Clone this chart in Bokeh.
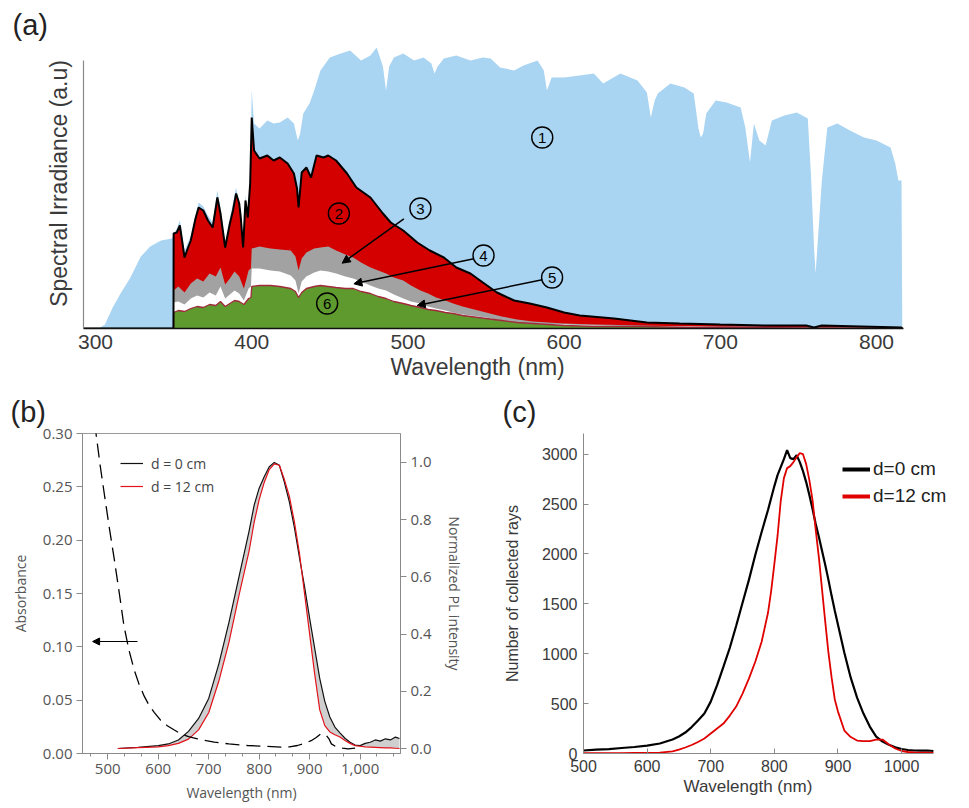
from bokeh.plotting import figure
from bokeh.models import (Range1d, LinearAxis, FixedTicker, SingleIntervalTicker,
                          Arrow, NormalHead, Legend, LegendItem, NumeralTickFormatter, Title)
from bokeh.layouts import column, row
from bokeh.embed import file_html
from bokeh.resources import INLINE
from bokeh.core.properties import value

# ---------------- Panel (a) data (arbitrary units) ----------------
a_ticks = [300, 400, 500, 600, 700, 800]
wl_blue = [292, 302, 306, 311, 316, 322, 329, 335, 342, 349,
           352, 354, 357, 361, 366, 369, 372, 375, 378, 380,
           383, 386, 390, 393, 394.5, 396, 397.5, 399, 400, 401.5,
           405, 410, 414, 418, 423, 427, 429.5, 431, 433, 437,
           440, 444, 450, 457, 463, 470, 476, 480, 484, 486,
           488, 491, 497, 504, 510, 515, 517, 519, 523, 531,
           540, 548, 553, 559, 568, 574, 583, 587, 589, 592,
           600, 610, 619, 625, 636, 647, 653, 655.5, 658, 660,
           668, 677, 683, 686, 687.5, 689, 691, 697, 704, 713,
           716, 719, 721.5, 725, 729, 733, 741, 749, 756, 758,
           760, 761, 763, 765, 768.5, 775, 783, 792, 800, 809,
           812, 814, 816, 816.5]
am15_sun = [0, 0, 4, 21, 35, 50, 72, 82, 88, 90,
            100, 108, 78, 93, 126, 122, 113, 106, 138, 120,
            86, 110, 141, 116, 86, 133, 116, 150, 238, 205,
            200, 208, 205, 206, 211, 205, 188, 195, 215, 225,
            238, 258, 271, 275, 278, 268, 273, 281, 262, 238,
            262, 271, 275, 268, 271, 265, 255, 262, 270, 273,
            268, 271, 270, 261, 258, 263, 268, 258, 238, 251,
            251, 253, 255, 245, 255, 248, 236, 211, 228, 235,
            245, 241, 235, 200, 191, 195, 215, 228, 226, 221,
            201, 166, 205, 188, 183, 208, 213, 216, 210, 155,
            81, 55, 101, 148, 201, 205, 198, 191, 188, 181,
            165, 148, 148, 0]

wl_red = [292, 349.9, 350, 352, 354, 357, 359, 361, 364, 366,
          369, 372, 375, 378, 380, 383, 386, 388, 390, 392,
          393, 394.5, 396, 397.5, 399, 400, 401.5, 405, 410, 414,
          418, 423, 427, 429, 430, 432, 435, 438, 441.5, 446,
          449, 454, 461, 467, 476, 484, 489, 497, 506, 514,
          523, 531, 540, 548, 557, 568, 578, 589, 600, 610,
          632, 653, 674, 700, 730, 755, 760, 765, 790, 816,
          816.5]
absorbed_2 = [0, 0, 95, 96, 103, 71, 80, 88, 110, 121,
              118, 108, 101, 131, 115, 81, 105, 118, 135, 125,
              111, 81, 128, 111, 145, 211, 178, 170, 173, 168,
              171, 165, 155, 140, 121, 156, 161, 151, 173, 171,
              173, 168, 155, 141, 131, 115, 106, 98, 86, 78,
              71, 61, 55, 46, 36, 28, 25, 21, 16, 13,
              10, 6, 5, 4, 3, 3, 1, 3, 2, 1,
              0]

wl_low = [349.9, 350, 353, 357, 361, 365, 369, 373, 377, 380,
          383, 386, 389, 392, 395, 398, 399.5, 400, 405, 412,
          418, 425, 428, 430, 432, 435, 440, 444, 449, 454,
          460, 465, 470, 476, 481, 486, 491, 497, 502, 508,
          513, 518, 524, 529, 535, 540, 545, 550, 560, 570,
          580, 600, 620, 650, 680, 720, 760, 800, 816, 816.5]
layer_3 = [0, 38, 42, 36, 45, 50, 47, 55, 52, 61,
           44, 50, 57, 52, 40, 58, 60, 80, 82, 80,
           79, 78, 72, 58, 70, 76, 80, 81, 82, 78,
           74, 71, 66, 61, 58, 55, 51, 48, 43, 38,
           35, 31, 28, 25, 22, 20, 18, 16, 12, 9,
           7, 5, 4, 3, 2, 2, 1, 1, 1, 0]
layer_4 = [0, 26, 27, 24, 30, 33, 31, 36, 33, 42,
           30, 34, 38, 35, 28, 40, 42, 60, 60, 58,
           57, 53, 48, 35, 47, 52, 56, 58, 57, 55,
           52, 50, 47, 43, 40, 38, 34, 30, 27, 25,
           22, 20, 18, 16, 14, 13, 12, 11, 8, 6,
           5, 4, 3, 2, 2, 1, 1, 1, 1, 0]
layer_6 = [0, 16, 18, 17, 20, 22, 21, 24, 23, 27,
           22, 25, 28, 27, 24, 30, 31, 42, 43, 43,
           42, 40, 37, 31, 36, 40, 42, 43, 42, 41,
           40, 40, 37, 35, 32, 30, 27, 25, 23, 21,
           19, 18, 16, 15, 13, 12, 11, 10, 8, 6,
           5, 3, 2, 2, 1, 1, 0.5, 0.5, 0.5, 0]

mark_labels = ["1", "2", "3", "4", "5", "6"]
mark_x = [586, 455.8, 508, 548.4, 592.3, 448.3]
mark_y = [191, 115, 120, 73, 51, 25]
arrow_x0 = [497.4, 542.2, 586.0]
arrow_y0 = [109.7, 69.7, 48.7]
arrow_x1 = [457.9, 465.4, 505.9]
arrow_y1 = [65.3, 44.7, 23.0]

# ---------------- Panel (b) data ----------------
b_abs_ticks = [0.0, 0.05, 0.10, 0.15, 0.20, 0.25, 0.30]
b_pl_ticks = [0.0, 0.2, 0.4, 0.6, 0.8, 1.0]
wl_b = [520, 560, 600, 620, 640, 660, 680, 700, 720, 740,
        760, 780, 790, 800, 810, 820, 830, 840, 850, 860,
        870, 880, 890, 900, 910, 920, 930, 940, 950, 960,
        970, 980, 990, 1000, 1010, 1020, 1030, 1040, 1050, 1060,
        1070, 1078]
pl_d0 = [0.0, 0.004, 0.010, 0.016, 0.03, 0.06, 0.105, 0.175, 0.295, 0.44,
         0.60, 0.76, 0.85, 0.91, 0.95, 0.985, 1.0, 0.99, 0.93, 0.86,
         0.77, 0.665, 0.565, 0.455, 0.35, 0.245, 0.165, 0.11, 0.075, 0.055,
         0.036, 0.022, 0.012, 0.010, 0.018, 0.022, 0.03, 0.026, 0.034, 0.03,
         0.04, 0.035]
pl_d12 = [0.0, 0.003, 0.006, 0.010, 0.018, 0.033, 0.065, 0.125, 0.235, 0.37,
          0.535, 0.69, 0.79, 0.87, 0.93, 0.975, 0.995, 0.99, 0.94, 0.88,
          0.79, 0.68, 0.54, 0.40, 0.26, 0.135, 0.08, 0.058, 0.048, 0.04,
          0.028, 0.018, 0.010, 0.008, 0.006, 0.005, 0.004, 0.003, 0.002, 0.002,
          0.001, 0.0]
wl_abs = [474, 485, 493, 503, 513, 523, 532, 542, 552, 562,
          572, 582, 592, 605, 618, 632, 645, 660, 678, 695,
          711, 740, 777, 810, 843, 860, 876, 890, 903, 913,
          922, 928, 933, 938, 943, 950, 956, 965, 976, 990]
absorbance = [0.31, 0.27, 0.244, 0.212, 0.182, 0.150, 0.120, 0.097, 0.079, 0.065,
              0.054, 0.045, 0.0386, 0.031, 0.026, 0.022, 0.0184, 0.0158, 0.0137, 0.012,
              0.0106, 0.009, 0.0075, 0.0068, 0.0059, 0.0062, 0.0075, 0.0095, 0.012, 0.015,
              0.0184, 0.0182, 0.017, 0.014, 0.009, 0.007, 0.0059, 0.005, 0.0044, 0.005]
b_arrow = [559, 470, 0.105]

# ---------------- Panel (c) data ----------------
c_xticks = [500, 600, 700, 800, 900, 1000]
wl_c = [500, 520, 540, 560, 580, 600, 620, 640, 650, 660,
        670, 680, 690, 700, 710, 720, 730, 740, 750, 760,
        770, 780, 790, 795, 800, 805, 810, 815, 820, 825,
        830, 835, 840, 845, 850, 855, 860, 865, 870, 875,
        880, 885, 890, 895, 900, 910, 920, 930, 940, 950,
        960, 970, 980, 990, 1000, 1010, 1020, 1030, 1040, 1050]
rays_d0 = [30, 38, 44, 55, 65, 79, 100, 140, 170, 210,
           265, 330, 400, 520, 685, 870, 1060, 1280, 1510, 1740,
           1990, 2220, 2440, 2560, 2680, 2790, 2870, 2950, 3040, 2960,
           2950, 2990, 2920, 2830, 2720, 2590, 2450, 2300, 2170, 2030,
           1890, 1740, 1580, 1430, 1290, 1010, 760, 560, 400, 270,
           170, 120, 88, 62, 45, 35, 30, 28, 30, 25]
rays_d12 = [3, 3, 4, 4, 5, 5, 8, 22, 38, 60,
            85, 115, 150, 200, 250, 300, 380, 470, 600, 750,
            920, 1120, 1410, 1630, 1900, 2180, 2530, 2760, 2860, 2880,
            2920, 2970, 3010, 3000, 2900, 2740, 2540, 2240, 1964, 1640,
            1320, 1010, 760, 540, 420, 230, 165, 130, 125, 125,
            140, 140, 90, 50, 25, 15, 10, 8, 8, 7]

SANS = "Liberation Sans"
OPEN = "Open Sans"


def panel_title(p, text, offset, standoff):
    p.title = Title(text=text, align="left", offset=offset, standoff=standoff,
                    text_font=SANS, text_font_size="29px", text_font_style="normal",
                    text_color="#222222")


def below_label(p, text, offset, size):
    p.add_layout(Title(text=text, align="left", offset=offset, standoff=0,
                       text_font=SANS, text_font_size=size, text_font_style="normal",
                       text_color="#3a3a3a"), "below")


# ======================= Panel (a) =======================
pa = figure(width=969, height=387, x_range=Range1d(292.3, 819.2), y_range=Range1d(0, 290),
            output_backend="svg", toolbar_location=None,
            min_border_left=83, min_border_right=63, min_border_top=38, min_border_bottom=59)
pa.grid.visible = False
pa.outline_line_color = None
panel_title(pa, "(a)", -71, -4)

pa.varea(x=wl_blue, y1=0, y2=am15_sun, fill_color="#a9d4f2")
pa.varea(x=wl_red, y1=0, y2=absorbed_2, fill_color="#d40000")
pa.varea(x=wl_low, y1=0, y2=layer_3, fill_color="#a2a2a2")
pa.varea(x=wl_low, y1=0, y2=layer_4, fill_color="#ffffff")
pa.varea(x=wl_low, y1=0, y2=layer_6, fill_color="#5e9a2e")
pa.line(wl_low, layer_6, line_color="#a12a3c", line_width=1.3)
pa.line(wl_red, absorbed_2, line_color="black", line_width=2)

pa.scatter(mark_x, mark_y, marker="circle", size=21, fill_color=None,
           line_color="black", line_width=1.4)
pa.text(mark_x, mark_y, text=mark_labels, text_align="center", text_baseline="middle",
        text_font_size="15px", text_font=value(SANS), text_color="black")
for i in range(len(arrow_x0)):
    pa.add_layout(Arrow(end=NormalHead(size=8, fill_color="black", line_color="black"),
                        x_start=arrow_x0[i], y_start=arrow_y0[i],
                        x_end=arrow_x1[i], y_end=arrow_y1[i],
                        line_color="black", line_width=1.5))

xa = pa.xaxis[0]
xa.ticker = FixedTicker(ticks=a_ticks)
xa.major_tick_in = 0
xa.major_tick_out = 0
xa.minor_tick_line_color = None
xa.axis_line_color = "#111111"
xa.axis_line_width = 1.5
xa.bounds = (292.3, 817)
xa.major_label_text_font = SANS
xa.major_label_text_font_size = "21px"
xa.major_label_text_color = "#3a3a3a"
xa.major_label_standoff = 6
below_label(pa, "Wavelength (nm)", 307, "23px")

ya = pa.yaxis[0]
ya.ticker = FixedTicker(ticks=[])
ya.bounds = (0, 268)
ya.axis_line_color = "#8a8a8a"
ya.axis_line_width = 1.2
ya.major_tick_line_color = None
ya.minor_tick_line_color = None
ya.axis_label = "Spectral Irradiance (a.u)"
ya.axis_label_text_font = SANS
ya.axis_label_text_font_size = "23px"
ya.axis_label_text_font_style = "normal"
ya.axis_label_text_color = "#3a3a3a"
ya.axis_label_standoff = 12

# ======================= Panel (b) =======================
pb = figure(width=480, height=421, x_range=Range1d(450, 1080), y_range=Range1d(0, 0.30),
            output_backend="svg", toolbar_location=None,
            min_border_left=82, min_border_right=80, min_border_top=45, min_border_bottom=55)
pb.grid.visible = False
pb.outline_line_color = "#9a9a9a"
pb.extra_y_ranges = {"pl": Range1d(-0.0174, 1.101)}
panel_title(pb, "(b)", -72, 12)

pb.varea(x=wl_b, y1=pl_d12, y2=pl_d0, fill_color="#cfcfcf", y_range_name="pl")
r_b0 = pb.line(wl_b, pl_d0, line_color="#111111", line_width=1.2, y_range_name="pl")
r_b12 = pb.line(wl_b, pl_d12, line_color="#e3121b", line_width=1.2, y_range_name="pl")
pb.line(wl_abs, absorbance, line_color="black", line_width=1.3, line_dash="14 7")
pb.add_layout(Arrow(end=NormalHead(size=7, fill_color="black", line_color="black"),
                    x_start=b_arrow[0], y_start=b_arrow[2], x_end=b_arrow[1], y_end=b_arrow[2],
                    line_color="black", line_width=1.2))


def style_b(ax):
    ax.axis_line_color = "#8a8a8a"
    ax.major_tick_line_color = "#8a8a8a"
    ax.minor_tick_line_color = "#8a8a8a"
    ax.major_tick_in = 0
    ax.major_tick_out = 6
    ax.minor_tick_in = 0
    ax.minor_tick_out = 3
    ax.major_label_text_font = OPEN
    ax.major_label_text_font_size = "15px"
    ax.major_label_text_color = "#555555"
    ax.major_label_standoff = 4
    ax.axis_label_text_font = OPEN
    ax.axis_label_text_font_size = "14px"
    ax.axis_label_text_font_style = "normal"
    ax.axis_label_text_color = "#555555"


xb = pb.xaxis[0]
style_b(xb)
xb.ticker = SingleIntervalTicker(interval=100, num_minor_ticks=3)
xb.formatter = NumeralTickFormatter(format="0,0")
xb.axis_label = "Wavelength (nm)"
xb.axis_label_standoff = 6

yb = pb.yaxis[0]
style_b(yb)
yb.ticker = FixedTicker(ticks=b_abs_ticks)
yb.formatter = NumeralTickFormatter(format="0.00")
yb.axis_label = "Absorbance"
yb.axis_label_standoff = 10

yb2 = LinearAxis(y_range_name="pl")
style_b(yb2)
yb2.ticker = FixedTicker(ticks=b_pl_ticks)
yb2.formatter = NumeralTickFormatter(format="0.0")
yb2.axis_label = "Normalized PL intensity"
yb2.axis_label_standoff = 10
pb.add_layout(yb2, "right")

leg_b = Legend(items=[LegendItem(label="d = 0 cm", renderers=[r_b0]),
                      LegendItem(label="d = 12 cm", renderers=[r_b12])],
               location=(38, 257), background_fill_alpha=0, border_line_color=None,
               label_text_font=OPEN, label_text_font_size="14px", label_text_color="#444444",
               glyph_width=23, glyph_height=20, label_height=20, spacing=3,
               label_standoff=8, padding=0, margin=0)
pb.add_layout(leg_b)

# ======================= Panel (c) =======================
pc = figure(width=489, height=421, x_range=Range1d(500, 1102), y_range=Range1d(0, 3207),
            output_backend="svg", toolbar_location=None,
            min_border_left=103, min_border_right=3, min_border_top=45, min_border_bottom=50)
pc.grid.visible = False
pc.outline_line_color = None
panel_title(pc, "(c)", -81, 12)

pc.line(wl_c, rays_d0, line_color="black", line_width=2.2)
pc.line(wl_c, rays_d12, line_color="#e00000", line_width=1.8)
# single-point renderers: invisible in the plot, give thicker legend swatches
r_c0 = pc.line(wl_c[:1], rays_d0[:1], line_color="black", line_width=4)
r_c12 = pc.line(wl_c[:1], rays_d12[:1], line_color="#e00000", line_width=4)

for ax in (pc.xaxis[0], pc.yaxis[0]):
    ax.axis_line_color = "#8a8a8a"
    ax.major_tick_line_color = "#8a8a8a"
    ax.major_tick_in = 5
    ax.major_tick_out = 0
    ax.minor_tick_line_color = None
    ax.major_label_text_font = SANS
    ax.major_label_text_font_size = "16px"
    ax.major_label_text_color = "#3a3a3a"
    ax.axis_label_text_font = SANS
    ax.axis_label_text_font_style = "normal"
    ax.axis_label_text_color = "#3a3a3a"

xc = pc.xaxis[0]
xc.ticker = FixedTicker(ticks=c_xticks)
xc.bounds = (500, 1050)
xc.major_label_standoff = 6
below_label(pc, "Wavelength (nm)", 100, "17px")

yc = pc.yaxis[0]
yc.ticker = SingleIntervalTicker(interval=500, num_minor_ticks=0)
yc.major_label_standoff = 6
yc.axis_label = "Number of collected rays"
yc.axis_label_text_font_size = "16px"
yc.axis_label_standoff = 18

leg_c = Legend(items=[LegendItem(label="d=0 cm", renderers=[r_c0]),
                      LegendItem(label="d=12 cm", renderers=[r_c12])],
               location=(259, 245), background_fill_alpha=0, border_line_color=None,
               label_text_font=SANS, label_text_font_size="19px", label_text_color="#222222",
               glyph_width=28, glyph_height=24, label_height=24, spacing=3,
               label_standoff=3, padding=0, margin=0)
pc.add_layout(leg_c)

layout = column(pa, row(pb, pc))
open("out.html", "w").write(file_html(layout, INLINE))
